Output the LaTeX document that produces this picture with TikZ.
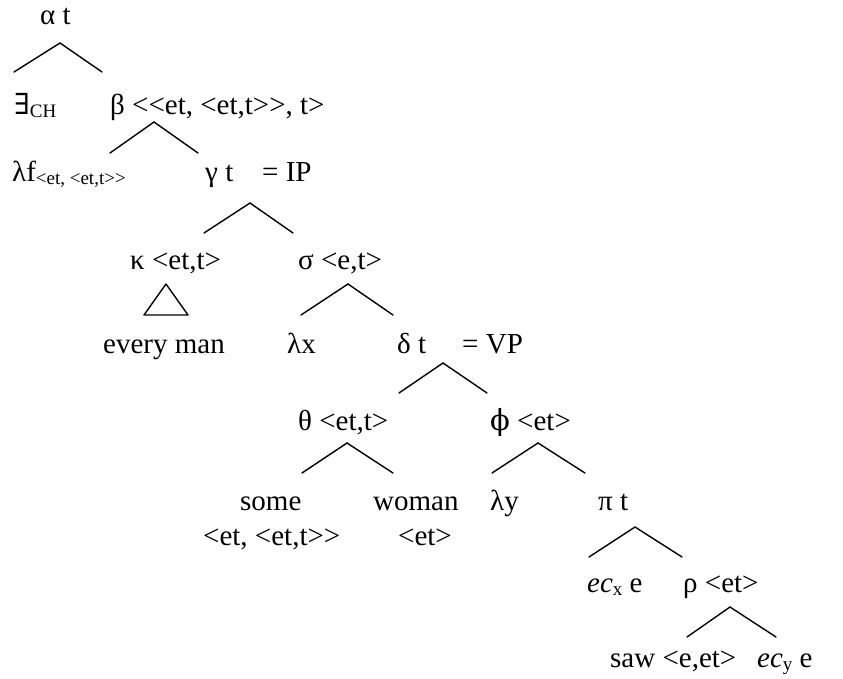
\documentclass[tikz,border=0pt]{standalone}
\usepackage{fontspec}
\setmainfont{Liberation Serif}
\newfontfamily\dvs{DejaVu Serif}
\tikzset{
  lbl/.style={anchor=base west, inner sep=0pt, yshift=-7pt, font=\fontsize{29}{33}\selectfont},
  br/.style={line width=1.4pt, line cap=round}
}
\newcommand{\sbt}[1]{\raisebox{-3pt}{\fontsize{19}{19}\selectfont #1}}
\newcommand{\lt}{<\kern0pt}
\newcommand{\gt}{>\kern0pt}
\begin{document}
\begin{tikzpicture}[x=1pt,y=-1pt]
\useasboundingbox (0,0) rectangle (843,679);
% labels
\node[lbl] (alpha) at (40,18) {α t};
\node[lbl] (ex) at (14,108) {{\dvs ∃}\sbt{CH}};
\node[lbl] (beta) at (110,108) {β \lt\lt et, \lt et,t\gt\gt, t>};
\node[lbl] (lf) at (12,175) {λf\sbt{\lt et, \lt et,t\gt\gt}};
\node[lbl] (gamma) at (205,175) {γ t};
\node[lbl] (ip) at (262,175) {= IP};
\node[lbl] (kappa) at (130,262) {κ <et,t>};
\node[lbl] (sigma) at (298,262) {σ <e,t>};
\node[lbl] (every) at (103,346) {every man};
\node[lbl] (lx) at (287,346) {λx};
\node[lbl] (delta) at (397,346) {δ t};
\node[lbl] (vp) at (462,346) {= VP};
\node[lbl] (theta) at (298,423) {θ <et,t>};
\node[lbl] (phi) at (490,423) {{\dvs ϕ} <et>};
\node[lbl] (some) at (240,503) {some};
\node[lbl] (woman) at (373,503) {woman};
\node[lbl] (ly) at (490,503) {λy};
\node[lbl] (pi) at (598,503) {π t};
\node[lbl] (somet) at (203,538) {\lt et, \lt et,t\gt\gt};
\node[lbl] (womant) at (398,538) {<et>};
\node[lbl] (ecx) at (587,585) {\textit{ec}\sbt{x} e};
\node[lbl] (rho) at (683,585) {ρ <et>};
\node[lbl] (saw) at (610,660) {saw <e,et>};
\node[lbl] (ecy) at (757,660) {\textit{ec}\sbt{y} e};
% branch coordinates
\coordinate (a0) at (60,43);  \coordinate (a1) at (14,72);  \coordinate (a2) at (102,72);
\coordinate (b0) at (154,122); \coordinate (b1) at (110,153); \coordinate (b2) at (198,153);
\coordinate (g0) at (250,203); \coordinate (g1) at (204,233); \coordinate (g2) at (293,233);
\coordinate (k0) at (166,284); \coordinate (k1) at (144,315); \coordinate (k2) at (188,315);
\coordinate (s0) at (348,284); \coordinate (s1) at (301,315); \coordinate (s2) at (393,315);
\coordinate (d0) at (443,363); \coordinate (d1) at (399,393); \coordinate (d2) at (487,393);
\coordinate (t0) at (347,443); \coordinate (t1) at (302,473); \coordinate (t2) at (393,473);
\coordinate (f0) at (538,443); \coordinate (f1) at (492,473); \coordinate (f2) at (585,473);
\coordinate (p0) at (635,527); \coordinate (p1) at (589,557); \coordinate (p2) at (682,557);
\coordinate (r0) at (730,607); \coordinate (r1) at (687,637); \coordinate (r2) at (776,637);
\foreach \n in {a,b,g,s,d,t,f,p,r}{
  \draw[br] (\n1) -- (\n0) -- (\n2);
}
\draw[br, line join=round] (k0) -- (k1) -- (k2) -- cycle;
\end{tikzpicture}
\end{document}
